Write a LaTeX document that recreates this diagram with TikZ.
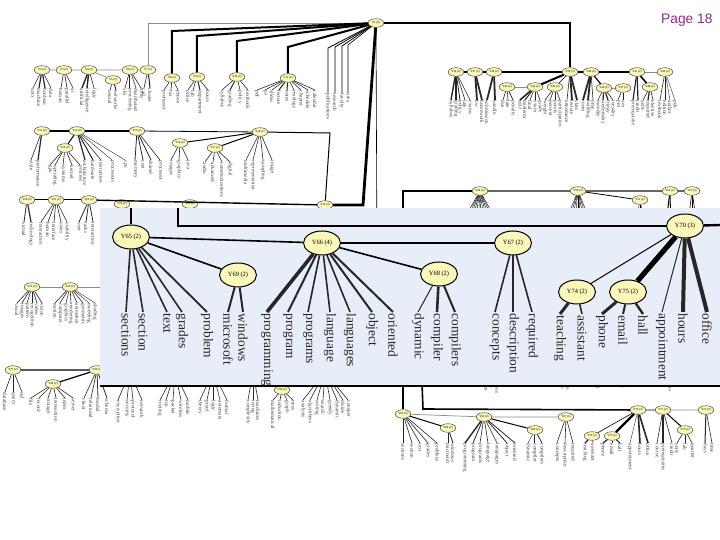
\documentclass[tikz,border=0pt]{standalone}
\usepackage{fontspec}
\setmainfont{Liberation Serif}
\newfontfamily\pgfont{Liberation Sans}
\usetikzlibrary{shapes.geometric}
\definecolor{ylw}{RGB}{250,247,185}
\definecolor{insetbg}{RGB}{232,238,248}
\definecolor{pgpurple}{RGB}{150,40,140}
\newcommand\lvs[4]{\foreach \lx/\w/\lw [count=\i] in {#4} {\node[#3] (#1-\i) at (\lx,#2) {\w}; \draw[line width=\lw,black!85] (#1) -- (#1-\i.west);}}
\begin{document}
\begin{tikzpicture}[x=0.5pt,y=-0.5pt,
  bnode/.style={ellipse, draw=black!70, line width=0.25pt, fill=ylw, inner sep=0pt, minimum width=7.8pt, minimum height=4.3pt, font=\fontsize{1.5}{1.6}\selectfont},
  bleaf/.style={rotate=-90, anchor=west, inner sep=0.2pt, font=\fontsize{2.6}{2.8}\selectfont, text=black!75},
  inode/.style={ellipse, draw=black, line width=0.5pt, fill=ylw, inner sep=0pt, minimum width=18.5pt, minimum height=12pt, font=\fontsize{3.2}{3.4}\selectfont},
  ileaf/.style={rotate=-90, anchor=west, inner sep=0.6pt, font=\fontsize{6.7}{7}\selectfont, text=black!85},
  gline/.style={draw=black!45, line width=.35pt},
  kline/.style={draw=black, line width=.5pt}]
\useasboundingbox (0,0) rectangle (720,540);
% ---------------- root ----------------
\node[bnode] (R) at (376,23) {Y1 (9)};
% ---------------- row 1 ----------------
\node[bnode] (G1) at (42,70) {Y2 (2)};
\node[bnode] (G2) at (64,70) {Y3 (2)};
\node[bnode] (G3) at (89,70) {Y4 (2)};
\node[bnode] (G3a) at (113,80) {Y5 (2)};
\node[bnode] (G4) at (130,70) {Y6 (2)};
\node[bnode] (G5) at (148,70) {Y7 (2)};
\node[bnode] (G6) at (172,78) {Y8 (2)};
\node[bnode] (G7) at (197,77) {Y9 (2)};
\node[bnode] (G8) at (237,77) {Y10 (2)};
\node[bnode] (G9) at (288,78) {Y11 (2)};
\draw[gline] (G1) -- (G2) (G2) -- (G3) (G3) -- (G4) (G4) -- (G5) (G3) -- (G3a);
\draw[gline] (R) -| (G5);
\draw[line width=1pt] (R) -- (172,31) -- (G6);
\draw[line width=1pt] (R) -- (197,36) -- (G7);
\draw[line width=1pt] (R) -- (237,41) -- (G8);
\draw[line width=1pt] (R) -- (288,47) -- (G9);
\lvs{G1}{88}{bleaf}{33/unix/.3pt,39/machine/.6pt,45/boolean/.6pt,51/data/.3pt}
\lvs{G2}{88}{bleaf}{61/human/.3pt,67/parallel/.3pt,73/ai/.3pt}
\lvs{G3}{88}{bleaf}{82/artificial/.7pt,87/intelligence/.7pt,94/logic/.3pt}
\lvs{G3a}{90}{bleaf}{110/neural/.3pt,116/networks/.5pt}
\lvs{G4}{88}{bleaf}{125/vlsi/.3pt,130/processing/.5pt,136/distributed/.3pt,141/array/.3pt}
\lvs{G5}{88}{bleaf}{144/cad/.3pt,150/cluster/.5pt}
\lvs{G6}{90}{bleaf}{164/professor/.3pt,171/fax/.3pt,178/phone/.3pt}
\lvs{G7}{90}{bleaf}{188/office/.3pt,193/lab/.3pt,200/department/.5pt,208/hours/.3pt}
\lvs{G8}{90}{bleaf}{222/syllabus/.3pt,230/grading/.5pt,240/policy/.3pt,248/textbook/.3pt}
\lvs{G9}{90}{bleaf}{257/pdf/.3pt,265/ps/.3pt,272/slides/.3pt,279/lecture/.5pt,287/notes/.5pt,294/readings/.3pt,301/chapter/.3pt,308/schedule/.3pt,315/calendar/.3pt}
\node[bleaf] (rl1) at (328,93) {publications};
\node[bleaf] (rl2) at (335,93) {research};
\node[bleaf] (rl3) at (342,93) {faculty};
\node[bleaf] (rl4) at (348,93) {area};
\draw[line width=.4pt] (R) -- (328,48) -- (rl1.west);
\draw[line width=.4pt] (R) -- (335,47) -- (rl2.west);
\draw[line width=.4pt] (R) -- (342,46) -- (rl3.west);
\draw[line width=.3pt] (R) -- (348,45) -- (rl4.west);
% ---------------- row 2 ----------------
\node[bnode] (H1) at (42,131) {Y12 (2)};
\node[bnode] (H2) at (77,131) {Y13 (2)};
\node[bnode] (H2a) at (65,148) {Y14 (2)};
\node[bnode] (H3) at (137,131) {Y15 (2)};
\node[bnode] (H4) at (180,143) {Y16 (2)};
\node[bnode] (H5) at (215,148) {Y17 (2)};
\node[bnode] (H6) at (260,132) {Y18 (2)};
\draw[line width=.8pt] (H1) -- (H2) (H2) -- (H3);
\draw[kline] (H2) -- (H2a);
\draw[line width=.4pt] (H3) -- (H6);
\draw[kline] (H4) -- (H6) (H5) -- (H6);
\lvs{H1}{160}{bleaf}{31/style/.3pt,38/performance/.6pt}
\lvs{H2}{160}{bleaf}{85/architecture/.6pt,93/hardware/.5pt,101/instruction/.3pt,112/processors/.2pt,125/cpu/.2pt}
\lvs{H2a}{165}{bleaf}{50/gpu/.3pt,55/operating/.3pt,63/systems/.3pt,72/kernel/.3pt,80/process/.3pt}
\lvs{H3}{160}{bleaf}{135/memory/.4pt,143/cost/.4pt,151/shared/.4pt,160/processor/.3pt}
\lvs{H4}{160}{bleaf}{171/images/.3pt,179/graphics/.3pt,188/java/.3pt}
\lvs{H5}{162}{bleaf}{205/audio/.3pt,213/advanced/.3pt,222/communications/.3pt,230/digital/.3pt}
\lvs{H6}{160}{bleaf}{246/multimedia/.3pt,253/representation/.3pt,263/sampling/.3pt,272/image/.3pt}
% ---------------- row 3 ----------------
\node[bnode] (C) at (325,205) {Y19 (3)};
\node[bnode] (K1) at (27,200) {Y20 (2)};
\node[bnode] (K2) at (56,200) {Y21 (2)};
\node[bnode] (K3) at (89,200) {Y22 (2)};
\node[bnode] (K4) at (122,204) {Y23 (2)};
\node[bnode] (K5) at (190,204) {Y24 (2)};
\draw[kline] (K1) -- (K2) (K2) -- (K3);
\draw[line width=.7pt] (K3) -- (C);
\draw[kline] (H6) -- (330,133) -- (C);
\draw[line width=1.4pt] (R) -- (363,205) -- (C);
\draw[line width=.3pt] (R) -- (377,260);
\lvs{K1}{222}{bleaf}{24/virtual/.4pt,31/technology/.6pt}
\lvs{K2}{222}{bleaf}{41/interaction/.3pt,48/human/.3pt,54/interface/.3pt,61/users/.3pt,67/usability/.3pt}
\lvs{K3}{222}{bleaf}{79/user/.4pt,86/tasks/.4pt,93/interaction/.4pt}
% ---------------- row 4 ----------------
\node[bnode] (L1) at (32,287) {Y25 (2)};
\node[bnode] (L2) at (70,287) {Y26 (2)};
\draw[gline] (L1) -- (L2) -- (110,287);
\lvs{L1}{303}{bleaf}{17/visual/.3pt,22/images/.3pt,27/pattern/.3pt,32/recognition/.3pt,37/video/.3pt,42/vision/.3pt}
\lvs{L2}{303}{bleaf}{55/motion/.3pt,60/computer/.3pt,66/graphics/.3pt,71/rendering/.3pt,77/animation/.3pt,83/geometric/.3pt,89/modeling/.2pt,95/shading/.2pt}
% ---------------- row 5 ----------------
\node[bnode] (M1) at (13,370) {Y27 (2)};
\node[bnode] (M2) at (53,384) {Y28 (2)};
\node[bnode] (M3) at (97,370) {Y29 (2)};
\draw[line width=.6pt] (M1) -- (M3) (M2) -- (M3);
\lvs{M1}{392}{bleaf}{5/database/.3pt,13/query/.3pt,22/sql/.3pt}
\lvs{M2}{398}{bleaf}{31/file/.3pt,39/record/.3pt,48/storage/.3pt,56/transaction/.3pt,65/index/.3pt,73/server/.3pt}
\lvs{M3}{398}{bleaf}{84/client/.3pt,91/relational/.3pt,98/model/.4pt,107/schema/.4pt}
\node[bnode] (P1) at (130,372) {Y30 (2)};
\node[bnode] (P2) at (175,372) {Y31 (2)};
\node[bnode] (P3) at (213,372) {Y32 (2)};
\node[bnode] (P4) at (253,372) {Y33 (2)};
\node[bnode] (N) at (282,390) {Y34 (2)};
\node[bnode] (P5) at (325,372) {Y35 (2)};
\lvs{P1}{400}{bleaf}{118/encryption/.3pt,127/security/.3pt,133/protocol/.3pt,142/network/.3pt}
\lvs{P2}{400}{bleaf}{160/routing/.3pt,166/tcp/.3pt,173/packet/.3pt,181/wireless/.3pt,188/mobile/.3pt}
\lvs{P3}{400}{bleaf}{200/theory/.3pt,207/proof/.3pt,213/logic/.3pt,220/automata/.3pt,227/formal/.3pt}
\lvs{P4}{400}{bleaf}{248/complexity/.3pt,253/turing/.3pt,258/machines/.3pt}
\lvs{N}{400}{bleaf}{273/mathematical/.3pt,280/induction/.3pt,287/graph/.3pt,293/trees/.3pt}
\lvs{P5}{400}{bleaf}{303/analysis/.3pt,310/algorithms/.3pt,317/sorting/.3pt,323/search/.3pt,330/greedy/.3pt,337/dynamic/.3pt,343/divide/.3pt,348/conquer/.3pt}
% ---------------- top right ----------------
\node[bnode] (E1) at (456,72) {Y36 (2)};
\node[bnode] (E2) at (475,72) {Y37 (2)};
\node[bnode] (E3) at (494,72) {Y38 (2)};
\node[bnode] (E4) at (570,72) {Y39 (3)};
\node[bnode] (E5) at (591,72) {Y40 (2)};
\node[bnode] (E6) at (637,72) {Y41 (2)};
\node[bnode] (E7) at (665,72) {Y42 (2)};
\node[bnode] (F1) at (507,87) {Y43 (2)};
\node[bnode] (F2) at (535,87) {Y44 (2)};
\node[bnode] (F3) at (555,87) {Y45 (2)};
\node[bnode] (F4) at (604,88) {Y46 (2)};
\node[bnode] (F5) at (623,88) {Y47 (2)};
\node[bnode] (F6) at (650,87) {Y48 (2)};
\draw[line width=.6pt] (R) -| (E4);
\draw[line width=.9pt] (E1) -- (E2) (E2) -- (E3) (E3) -- (E4) (E5) -- (E6);
\draw[line width=1.4pt] (E4) -- (E5);
\draw[gline] (E6) -- (E7) (F1) -- (F2);
\draw[line width=1pt] (F2) -- (E4);
\draw[line width=.3pt] (F3) -- (E4);
\draw[line width=.6pt] (E5) -- (F4);
\draw[gline] (F4) -- (F5);
\draw[line width=.8pt] (E6) -- (F6);
\lvs{E1}{100}{bleaf}{451/syllabus/.7pt,456/grading/.7pt,460/policy/.4pt,465/late/.3pt,470/exams/.3pt}
\lvs{E2}{100}{bleaf}{477/hw/.9pt,482/homework/.9pt}
\lvs{E3}{100}{bleaf}{487/submission/.9pt,495/handin/.9pt}
\lvs{F1}{100}{bleaf}{503/due/.3pt,508/late/.3pt,513/penalty/.4pt}
\lvs{F2}{100}{bleaf}{520/quiz/.8pt,525/midterm/.5pt,530/final/.3pt,535/exam/.3pt,540/grade/.3pt}
\lvs{F3}{100}{bleaf}{545/weight/.3pt,550/percent/.3pt,555/points/.3pt,560/participation/.3pt}
\lvs{E4}{100}{bleaf}{567/attendance/.3pt,572/lecture/.9pt,577/class/.9pt}
\lvs{E5}{100}{bleaf}{583/room/.9pt,588/building/.9pt,593/time/.3pt}
\lvs{F4}{100}{bleaf}{598/monday/.3pt,603/wednesday/.6pt,608/friday/.6pt,613/tuesday/.3pt}
\lvs{F5}{100}{bleaf}{618/pm/.3pt,623/am/.3pt}
\lvs{E6}{100}{bleaf}{633/prerequisite/.6pt,638/credit/.6pt}
\lvs{F6}{100}{bleaf}{643/units/.3pt,648/required/.6pt,653/elective/.3pt}
\lvs{E7}{100}{bleaf}{660/textbook/.3pt,665/edition/.3pt,670/author/.2pt,675/pub/.2pt}
% ---------------- right middle ----------------
\node[bnode] (D1) at (480,191) {Y49 (4)};
\node[bnode] (D2) at (578,191) {Y50 (3)};
\node[bnode] (D3) at (640,200) {Y51 (2)};
\node[bnode] (D4) at (670,191) {Y52 (2)};
\node[bnode] (D5) at (692,191) {Y53 (2)};
\foreach \x in {452,457,...,507} \draw[line width=.2pt] (D1) -- (\x,240);
\foreach \x in {558,563,...,600} \draw[line width=.2pt] (D2) -- (\x,240);
\foreach \x in {633,640,647} \draw[line width=.2pt] (D3) -- (\x,240);
\foreach \x in {664,671} \draw[line width=.5pt] (D4) -- (\x,240);
\foreach \x in {686,692,699} \draw[line width=.3pt] (D5) -- (\x,240);
\draw[line width=.6pt,black!60] (D1) -- (D2) (D2) -- (D4) (D4) -- (D5);
\draw[line width=.4pt] (D2) -- (D3);
% hidden groups whose labels emerge below the inset
\node[bnode] (Q1) at (495,335) {Y54 (2)};
\node[bnode] (Q2) at (568,335) {Y55 (2)};
\node[bnode] (Q3) at (602,335) {Y56 (2)};
\node[bnode] (Q4) at (633,335) {Y57 (2)};
\node[bnode] (Q5) at (667,335) {Y58 (2)};
\lvs{Q1}{358}{bleaf}{486/implementation/.3pt,491/representation/.3pt,497/communications/.3pt,515/specification/.3pt}
\lvs{Q2}{358}{bleaf}{563/administration/.3pt,568/documentation/.3pt,573/configuration/.3pt}
\lvs{Q3}{358}{bleaf}{597/organizational/.3pt,602/international/.3pt,607/presentations/.3pt}
\lvs{Q4}{358}{bleaf}{623/understanding/.3pt,628/introductory/.3pt,633/verification/.3pt,638/requirements/.3pt,643/experimental/.3pt}
\lvs{Q5}{358}{bleaf}{665/responsibility/.3pt,670/announcements/.3pt,687/registration/.3pt}
% ---------------- miniature (bottom right) ----------------
\node[bnode] (m65) at (403,414) {Y65 (2)};
\node[bnode] (m69) at (448,428) {Y69 (2)};
\node[bnode] (m66) at (484,417) {Y66 (4)};
\node[bnode] (m68) at (535,430) {Y68 (2)};
\node[bnode] (m67) at (566,417) {Y67 (2)};
\node[bnode] (m74) at (592,436) {Y74 (2)};
\node[bnode] (m75) at (612,436) {Y75 (2)};
\node[bnode] (m70) at (638,410) {Y70 (3)};
\node[bnode] (mA) at (663,410) {Y71 (2)};
\node[bnode] (mB) at (685,430) {Y72 (2)};
\node[bnode] (mC) at (706,410) {Y73 (2)};
\coordinate (mtop) at (420,330);
\draw[line width=.6pt] (m65) |- (D1);
\draw[line width=.8pt] (mtop) -- (423,409) -- (m70);
\draw[gline] (m65) -- (m66) (m66) -- (m67) (mA) -- (mC);
\draw[kline] (m65) -- (m69) (m66) -- (m68) (mA) -- (mB);
\draw[line width=.3pt] (m70) -- (m74) (m70) -- (mA);
\draw[line width=1.1pt] (m70) -- (m75);
\lvs{m65}{443}{bleaf}{403/sections/.3pt,412/section/.3pt,420/text/.3pt,428/grades/.3pt,437/problem/.3pt}
\lvs{m69}{443}{bleaf}{448/microsoft/.4pt,453/windows/.4pt}
\lvs{m66}{443}{bleaf}{465/programming/.7pt,473/program/.4pt,480/programs/.3pt,488/language/.3pt,497/languages/.3pt,507/object/.4pt,515/oriented/.4pt}
\lvs{m68}{443}{bleaf}{528/dynamic/.2pt,535/compiler/.5pt,542/compilers/.4pt}
\lvs{m67}{443}{bleaf}{557/concepts/.3pt,565/description/.3pt,573/required/.3pt}
\lvs{m74}{443}{bleaf}{585/teaching/.6pt,593/assistant/.3pt}
\lvs{m75}{443}{bleaf}{603/phone/.6pt,612/email/.4pt,620/hall/.5pt}
\lvs{m70}{443}{bleaf}{630/appointment/.2pt,640/hours/.8pt,648/office/.8pt}
\lvs{mA}{443}{bleaf}{657/course/.3pt,663/prerequisites/.6pt,672/credit/.3pt}
\lvs{mB}{443}{bleaf}{677/units/.3pt,685/lab/.3pt,692/quarter/.3pt}
\lvs{mC}{443}{bleaf}{705/days/.5pt,712/time/.3pt}
% ---------------- page label ----------------
\node[font=\pgfont\fontsize{6.9}{8}\selectfont, text=pgpurple, anchor=east, inner sep=0pt] (pg) at (713,20) {Page 18};
% ---------------- inset ----------------
\fill[insetbg] (100,208) rectangle (720,386);
\draw[line width=.6pt] (100,386) -- (720,386);
\node[inode] (Y65) at (131,237) {Y65 (2)};
\node[inode] (Y69) at (238,275) {Y69 (2)};
\node[inode] (Y66) at (322,243) {Y66 (4)};
\node[inode] (Y68) at (439,274) {Y68 (2)};
\node[inode] (Y67) at (513,243) {Y67 (2)};
\node[inode] (Y74) at (577,292) {Y74 (2)};
\node[inode] (Y75) at (628,292) {Y75 (2)};
\node[inode] (Y70) at (685,226) {Y70 (3)};
\coordinate (t1) at (131,208);
\coordinate (t2) at (178,208);
\coordinate (t3) at (720,225);
\draw[line width=.8pt] (t1) -- (Y65);
\draw[line width=1.2pt] (t2) |- (Y70);
\draw[line width=1.2pt] (Y70) -- (t3);
\draw[line width=.8pt] (Y65) -- (Y66);
\draw[line width=.8pt] (Y65) -- (Y69);
\draw[line width=.7pt] (Y66) -- (Y67);
\draw[line width=.8pt] (Y66) -- (Y68);
\draw[line width=.5pt] (Y70) -- (Y74);
\draw[line width=2.6pt] (Y70) -- (Y75);
\lvs{Y65}{312}{ileaf}{126/sections/.8pt,143/section/.8pt,167/text/.8pt,182/grades/.8pt,207/problem/.9pt}
\lvs{Y69}{312}{ileaf}{228/microsoft/1pt,243/windows/1pt}
\lvs{Y66}{312}{ileaf}{267/programming/1.8pt,288/program/1pt,308/programs/.8pt,330/language/.8pt,350/languages/.8pt,372/object/1pt,393/oriented/1pt}
\lvs{Y68}{312}{ileaf}{418/dynamic/.5pt,437/compiler/1.3pt,455/compilers/1pt}
\lvs{Y67}{312}{ileaf}{495/concepts/.8pt,513/description/.8pt,532/required/.8pt}
\lvs{Y74}{314}{ileaf}{560/teaching/1.5pt,582/assistant/.8pt}
\lvs{Y75}{314}{ileaf}{602/phone/1.5pt,623/email/1pt,643/hall/1.2pt}
\lvs{Y70}{312}{ileaf}{662/appointment/.5pt,683/hours/2pt,707/office/2pt}
\end{tikzpicture}
\end{document}
